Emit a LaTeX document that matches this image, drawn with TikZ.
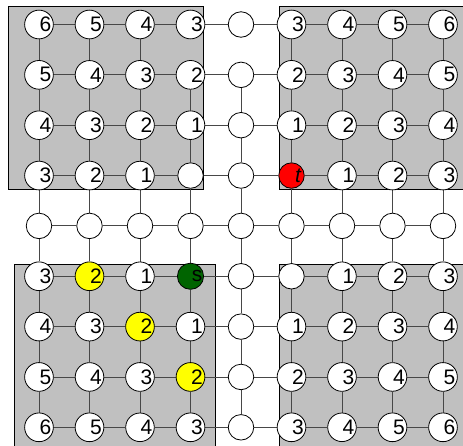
\documentclass[tikz,border=0pt]{standalone}
\usepackage{fontspec}
\setmainfont{Liberation Sans}
\definecolor{sgreen}{RGB}{0,100,0}
\definecolor{tred}{RGB}{255,0,0}
\definecolor{yel}{RGB}{255,255,0}
\definecolor{regiongray}{RGB}{192,192,192}
\pgfdeclarelayer{bg}
\pgfdeclarelayer{edges}
\pgfsetlayers{bg,edges,main}
\begin{document}
\begin{tikzpicture}[x=1pt,y=-1pt,
  region/.style={fill=regiongray, draw=black, line width=0.8pt},
  vtx/.style={circle, draw=black, fill=white, minimum size=25.5pt, inner sep=0pt, line width=0.8pt, font=\fontsize{21}{21}\selectfont},
  edge/.style={draw=black!72, line width=0.9pt},
  f1-5/.style={fill=yel},
  f2-6/.style={fill=yel},
  f3-7/.style={fill=yel},
  f3-5/.style={fill=sgreen},
  f5-3/.style={fill=tred}]
\useasboundingbox (0,0) rectangle (463,445);
\begin{pgfonlayer}{bg}
  \draw[region] (8,6) rectangle (203,189);
  \draw[region] (279,6) rectangle (464,189);
  \draw[region] (14,264) rectangle (215,446);
  \draw[region] (279,264) rectangle (464,446);
\end{pgfonlayer}
\foreach \r/\row in {
  0/{6,5,4,3,{},3,4,5,6},
  1/{5,4,3,2,{},2,3,4,5},
  2/{4,3,2,1,{},1,2,3,4},
  3/{3,2,1,{},{},{\itshape t},1,2,3},
  4/{{},{},{},{},{},{},{},{},{}},
  5/{3,2,1,s,{},{},1,2,3},
  6/{4,3,2,1,{},1,2,3,4},
  7/{5,4,3,2,{},2,3,4,5},
  8/{6,5,4,3,{},3,4,5,6}}{
  \foreach \lab [count=\c from 0] in \row {
    \node[vtx, f\c-\r/.try] (n\c-\r) at ({39+50.5*\c},{24.5+50.35*\r}) {\hspace*{13pt}\lab};
  }
}
\begin{pgfonlayer}{edges}
  \foreach \r in {0,...,8}{
    \foreach \c [evaluate=\c as \d using int(\c+1)] in {0,...,7}{
      \draw[edge] (n\c-\r) -- (n\d-\r);
    }
  }
  \foreach \c in {0,...,8}{
    \foreach \r [evaluate=\r as \s using int(\r+1)] in {0,...,7}{
      \pgfmathtruncatemacro{\skip}{(\r==0)&&((\c==3)||(\c==4))}
      \ifnum\skip=0
        \draw[edge] (n\c-\r) -- (n\c-\s);
      \fi
    }
  }
\end{pgfonlayer}
\end{tikzpicture}
\end{document}
